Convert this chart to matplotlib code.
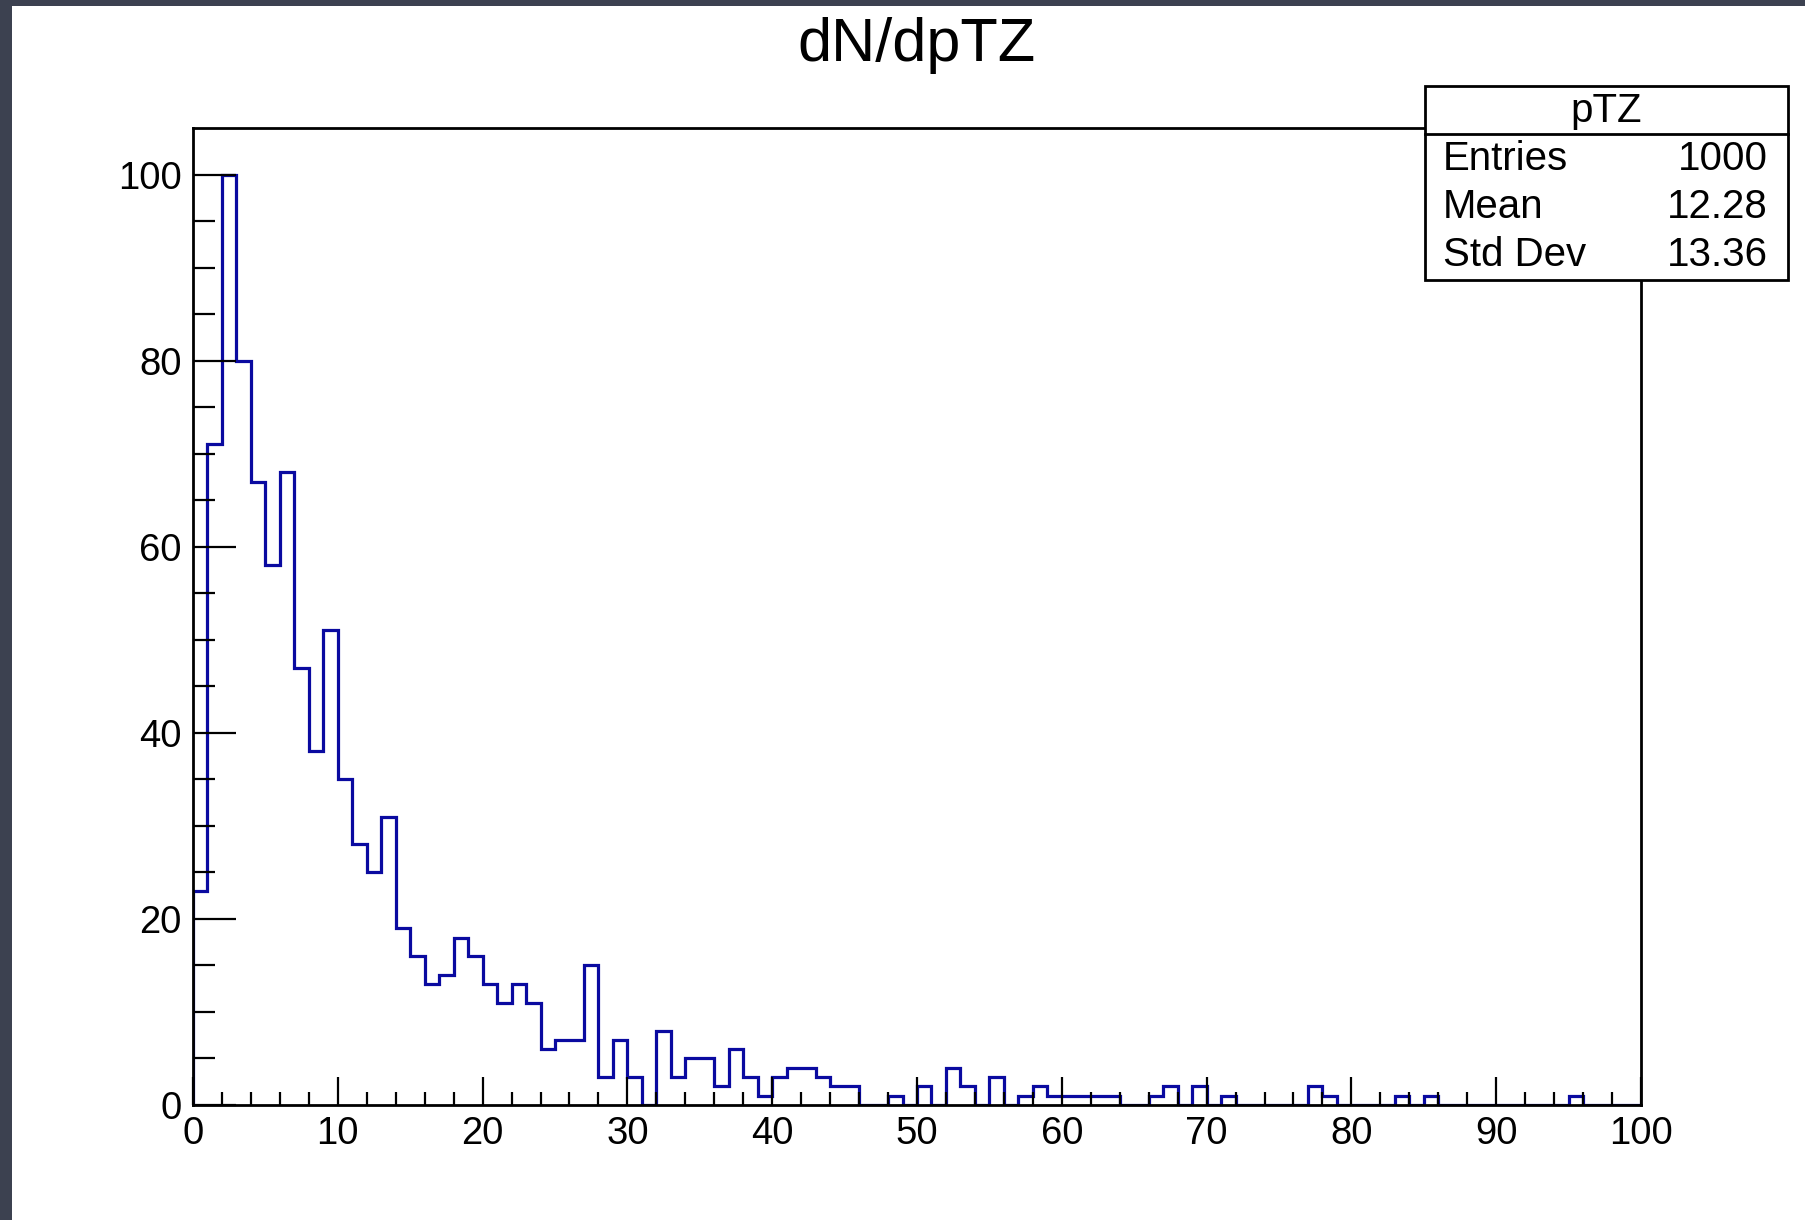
import matplotlib
matplotlib.use("Agg")
import matplotlib.pyplot as plt
import matplotlib.patches as patches
import matplotlib.lines as lines
import numpy as np

# histogram contents, 100 bins of width 1 from 0 to 100
counts = [23, 71, 100, 80, 67, 58, 68, 47, 38, 51,
          35, 28, 25, 31, 19, 16, 13, 14, 18, 16,
          13, 11, 13, 11, 6, 7, 7, 15, 3, 7,
          3, 0, 8, 3, 5, 5, 2, 6, 3, 1,
          3, 4, 4, 3, 2, 2, 0, 0, 1, 0,
          2, 0, 4, 2, 0, 3, 0, 1, 2, 1,
          1, 1, 1, 1, 0, 0, 1, 2, 0, 2,
          0, 1, 0, 0, 0, 0, 0, 2, 1, 0,
          0, 0, 0, 1, 0, 1, 0, 0, 0, 0,
          0, 0, 0, 0, 0, 1, 0, 0, 0, 0]
edges = np.arange(0, 101, 1)

title = "dN/dpTZ"
stats_title = "pTZ"
stat_names = ["Entries", "Mean", "Std Dev"]
stat_values = ["1000", "12.28", "13.36"]

W, H = 1806, 1220
plt.rcParams['font.family'] = ['Liberation Sans', 'DejaVu Sans']

def fx(x):
    return x / W

def fy(y):
    return 1 - y / H

fig = plt.figure(figsize=(W / 100, H / 100), dpi=100)
fig.patch.set_facecolor('#3c4150')

# white canvas area inside the dark window border
fig.patches.append(patches.Rectangle((fx(12), 0), 1 - fx(12), fy(6), transform=fig.transFigure,
                                     facecolor='white', edgecolor='none', zorder=-10))

ax = fig.add_axes([fx(193), fy(1105), fx(1641) - fx(193), fy(128) - fy(1105)])
ax.set_zorder(1)
ax.stairs(counts, edges, color='#0a0aa0', linewidth=2.3, baseline=0, zorder=1.5)

ax.set_xlim(0, 100)
ax.set_ylim(0, 105)
ax.set_xticks(np.arange(0, 101, 10))
ax.set_xticks(np.arange(0, 101, 2), minor=True)
ax.set_yticks(np.arange(0, 101, 20))
ax.set_yticks(np.arange(0, 101, 5), minor=True)

ax.tick_params(axis='both', which='both', direction='in', color='black', width=1.6,
               labelsize=27.5, top=False, right=False)
ax.tick_params(axis='y', which='major', length=31, pad=8)
ax.tick_params(axis='y', which='minor', length=16)
ax.tick_params(axis='x', which='major', length=20, pad=8)
ax.tick_params(axis='x', which='minor', length=9.5)
for s in ax.spines.values():
    s.set_linewidth(2)
    s.set_zorder(3)

fig.text(fx(916), fy(46), title, ha='center', va='center', fontsize=44)

# stats box
box = patches.Rectangle((fx(1425), fy(280)), fx(1788) - fx(1425), fy(86) - fy(280),
                        transform=fig.transFigure, facecolor='white', edgecolor='black',
                        linewidth=2, zorder=5)
fig.patches.append(box)
fig.lines.append(lines.Line2D([fx(1425), fx(1788)], [fy(134), fy(134)], transform=fig.transFigure,
                              color='black', linewidth=2, zorder=6))
fig.text(fx(1606), fy(111), stats_title, ha='center', va='center', fontsize=29, zorder=7)
row_y = [159, 207, 255]
for name, val, yy in zip(stat_names, stat_values, row_y):
    fig.text(fx(1443), fy(yy), name, ha='left', va='center', fontsize=29, zorder=7)
    fig.text(fx(1768), fy(yy), val, ha='right', va='center', fontsize=29, zorder=7)

fig.savefig('out.png', dpi=100, facecolor=fig.get_facecolor())
